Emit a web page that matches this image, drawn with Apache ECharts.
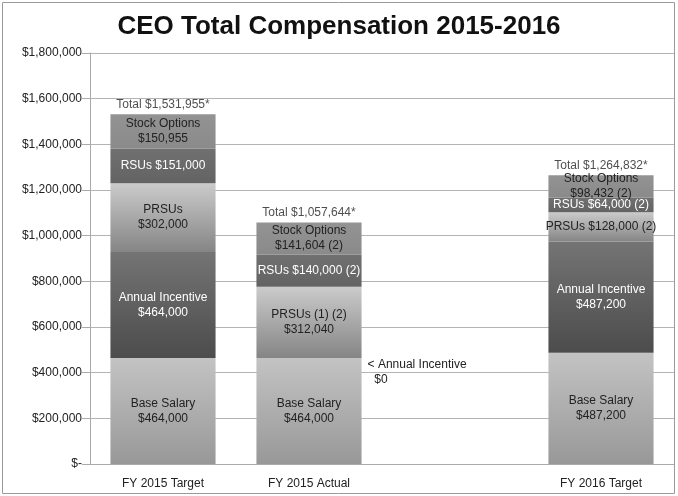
<!DOCTYPE html>
<html>
<head>
<meta charset="utf-8">
<script src="https://cdn.jsdelivr.net/npm/echarts@6/dist/echarts.min.js"></script>
<style>html,body{margin:0;padding:0;background:#fff;}#c{width:678px;height:496px;}</style>
</head>
<body>
<div id="c"></div>
<script>
var categories = ['FY 2015 Target', 'FY 2015 Actual', '', 'FY 2016 Target'];
var baseSalary = [464000, 464000, null, 487200];
var annualIncentive = [464000, 0, null, 487200];
var prsus = [302000, 312040, null, 128000];
var rsus = [151000, 140000, null, 64000];
var stockOptions = [150955, 141604, null, 98432];
var totals = [1531955, 1057644, null, 1264832];
var yTicks = [0, 200000, 400000, 600000, 800000, 1000000, 1200000, 1400000, 1600000, 1800000];

function money(v) { return '$' + Number(v).toLocaleString('en-US'); }
function grad(top, bottom) {
  return new echarts.graphic.LinearGradient(0, 0, 0, 1, [{offset: 0, color: top}, {offset: 1, color: bottom}]);
}
var FONT = 'Liberation Sans, Arial, Helvetica, sans-serif';
var baseLabel = {show: true, position: 'inside', fontSize: 12, fontFamily: FONT, lineHeight: 15, color: '#222'};

var chart = echarts.init(document.getElementById('c'), null, {renderer: 'canvas'});
chart.setOption({
  animation: false,
  backgroundColor: '#fff',
  title: {
    text: 'CEO Total Compensation 2015-2016', left: 'center', top: 9,
    textStyle: {fontSize: 26, fontWeight: 'bold', fontFamily: FONT, color: '#111'}
  },
  graphic: [{
    type: 'rect', shape: {x: 2.5, y: 2.5, width: 672, height: 491},
    style: {fill: 'none', stroke: '#9a9a9a', lineWidth: 1}, z: 100
  }],
  grid: {left: 90, right: 4, top: 53, bottom: 32, containLabel: false},
  xAxis: {
    type: 'category', data: categories,
    axisLine: {lineStyle: {color: '#aaa', width: 1}},
    axisTick: {show: false},
    axisLabel: {fontSize: 12, fontFamily: FONT, color: '#222', margin: 14}
  },
  yAxis: {
    type: 'value', min: 0, max: 1800000, interval: 200000,
    axisLine: {show: true, lineStyle: {color: '#aaa'}},
    axisTick: {show: true, length: 8, lineStyle: {color: '#aaa'}},
    splitLine: {lineStyle: {color: '#b4b4b4', width: 1}},
    axisLabel: {
      fontSize: 12, fontFamily: FONT, color: '#222', margin: 8,
      formatter: function (v) { return v === 0 ? '$-' : money(v); }
    }
  },
  series: [
    {
      name: 'Base Salary', type: 'bar', stack: 'c', barCategoryGap: '28%',
      data: baseSalary,
      itemStyle: {color: grad('#c3c3c3', '#989898')},
      label: Object.assign({}, baseLabel, {formatter: function (p) { return 'Base Salary\n' + money(p.value); }})
    },
    {
      name: 'Annual Incentive', type: 'bar', stack: 'c',
      data: annualIncentive.map(function (v, i) {
        if (v === 0) {
          return {value: v, label: {show: true, position: 'right', distance: 6, offset: [0, 14], color: '#222',
            formatter: '< Annual Incentive\n  $0', align: 'left'}};
        }
        return v;
      }),
      itemStyle: {color: grad('#747474', '#4c4c4c')},
      label: Object.assign({}, baseLabel, {color: '#fff', formatter: function (p) { return 'Annual Incentive\n' + money(p.value); }})
    },
    {
      name: 'PRSUs', type: 'bar', stack: 'c',
      data: prsus,
      itemStyle: {color: grad('#cbcbcb', '#858585')},
      label: Object.assign({}, baseLabel, {formatter: function (p) {
        if (p.dataIndex === 0) return 'PRSUs\n' + money(p.value);
        if (p.dataIndex === 1) return 'PRSUs (1) (2)\n' + money(p.value);
        return 'PRSUs ' + money(p.value) + ' (2)';
      }})
    },
    {
      name: 'RSUs', type: 'bar', stack: 'c',
      data: rsus,
      itemStyle: {color: grad('#707070', '#636363')},
      label: Object.assign({}, baseLabel, {color: '#fff', formatter: function (p) {
        return 'RSUs ' + money(p.value) + (p.dataIndex === 0 ? '' : ' (2)');
      }})
    },
    {
      name: 'Stock Options', type: 'bar', stack: 'c',
      data: stockOptions,
      itemStyle: {color: grad('#939393', '#8a8a8a')},
      label: Object.assign({}, baseLabel, {formatter: function (p) {
        return 'Stock Options\n' + money(p.value) + (p.dataIndex === 0 ? '' : ' (2)');
      }})
    },
    {
      name: 'Total', type: 'scatter', data: totals, symbolSize: 0, silent: true,
      label: {show: true, position: 'top', distance: 4, fontSize: 12, fontFamily: FONT, color: '#222',
        formatter: function (p) { return 'Total ' + money(p.value) + '*'; }},
      z: 10
    }
  ]
});
</script>
</body>
</html>
